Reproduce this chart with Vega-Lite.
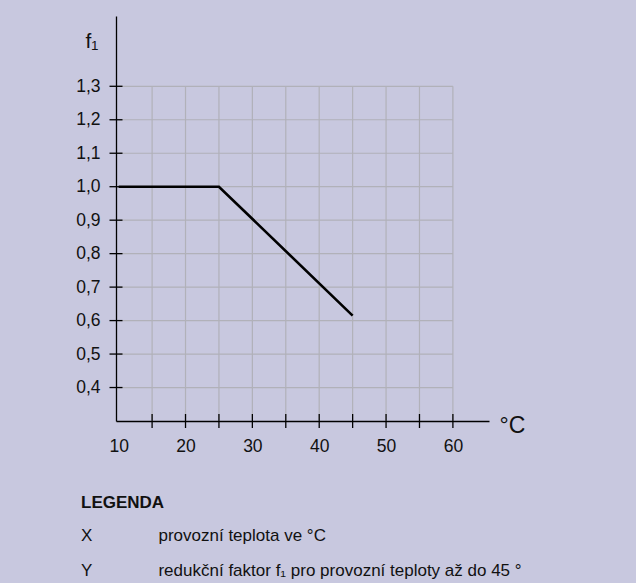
{
  "$schema": "https://vega.github.io/schema/vega-lite/v6.json",
  "autosize": {"type": "none"},
  "padding": {"left": 116, "top": 16, "right": 147, "bottom": 162},
  "width": 373,
  "height": 405,
  "background": "#c8c8df",
  "config": {"view": {"stroke": null}, "font": "Liberation Sans"},
  "title": {
    "text": "LEGENDA",
    "subtitle": [
      "X\u00a0\u00a0\u00a0\u00a0\u00a0\u00a0\u00a0\u00a0\u00a0\u00a0\u00a0\u00a0\u00a0\u00a0provozní teplota ve °C",
      "Y\u00a0\u00a0\u00a0\u00a0\u00a0\u00a0\u00a0\u00a0\u00a0\u00a0\u00a0\u00a0\u00a0\u00a0redukční faktor f₁ pro provozní teploty až do 45 °"
    ],
    "orient": "bottom",
    "anchor": "start",
    "frame": "group",
    "dx": -35,
    "offset": 40,
    "font": "Liberation Sans",
    "fontSize": 17,
    "fontWeight": "bold",
    "color": "#111111",
    "subtitleFont": "Liberation Sans",
    "subtitleFontSize": 17,
    "subtitleColor": "#111111",
    "subtitleLineHeight": 35,
    "subtitlePadding": 16
  },
  "datasets": {
    "curve": [
      {"x": 10, "y": 1.0},
      {"x": 25, "y": 1.0},
      {"x": 45, "y": 0.615}
    ],
    "vgrid": [
      {"x": 15}, {"x": 20}, {"x": 25}, {"x": 30}, {"x": 35},
      {"x": 40}, {"x": 45}, {"x": 50}, {"x": 55}, {"x": 60}
    ],
    "hgrid": [
      {"y": 0.4}, {"y": 0.5}, {"y": 0.6}, {"y": 0.7}, {"y": 0.8},
      {"y": 0.9}, {"y": 1.0}, {"y": 1.1}, {"y": 1.2}, {"y": 1.3}
    ]
  },
  "layer": [
    {
      "data": {"name": "vgrid"},
      "mark": {"type": "rule", "color": "#b1b1b9", "strokeWidth": 1.2},
      "encoding": {
        "x": {"field": "x", "type": "quantitative",
          "scale": {"domain": [9.6, 65.4], "nice": false, "zero": false},
          "axis": {
            "values": [10, 20, 30, 40, 50, 60],
            "ticks": false,
            "grid": false,
            "domainColor": "#000000",
            "domainWidth": 1.3,
            "labelFont": "Liberation Sans",
            "labelFontSize": 17.5,
            "labelColor": "#111111",
            "labelPadding": 16,
            "labelFlush": false,
            "title": "°C",
            "titleFont": "Liberation Sans",
            "titleFontSize": 23,
            "titleFontWeight": "normal",
            "titleColor": "#111111",
            "titleAlign": "left",
            "titleBaseline": "alphabetic",
            "titleAnchor": null,
            "titleX": 383,
            "titleY": 11
          }
        },
        "y": {"datum": 0.3, "type": "quantitative",
          "scale": {"domain": [0.3, 1.51], "nice": false, "zero": false},
          "axis": {
            "values": [0.4, 0.5, 0.6, 0.7, 0.8, 0.9, 1.0, 1.1, 1.2, 1.3],
            "labelExpr": "replace(format(datum.value, '.1f'), '.', ',')",
            "ticks": false,
            "grid": false,
            "domainColor": "#000000",
            "domainWidth": 1.3,
            "labelFont": "Liberation Sans",
            "labelFontSize": 17.5,
            "labelColor": "#111111",
            "labelPadding": 16,
            "labelFlush": false,
            "title": "f₁",
            "titleFont": "Liberation Sans",
            "titleFontSize": 21,
            "titleFontWeight": "normal",
            "titleColor": "#111111",
            "titleAngle": 0,
            "titleAlign": "left",
            "titleBaseline": "alphabetic",
            "titleAnchor": null,
            "titleX": -31,
            "titleY": 31
          }
        },
        "y2": {"datum": 1.3}
      }
    },
    {
      "data": {"name": "hgrid"},
      "mark": {"type": "rule", "color": "#b1b1b9", "strokeWidth": 1.2},
      "encoding": {
        "y": {"field": "y", "type": "quantitative"},
        "x": {"datum": 10, "type": "quantitative"},
        "x2": {"datum": 60}
      }
    },
    {
      "data": {"name": "vgrid"},
      "mark": {"type": "tick", "orient": "vertical", "color": "#000000", "size": 14, "thickness": 1.3, "opacity": 1},
      "encoding": {
        "x": {"field": "x", "type": "quantitative"},
        "y": {"datum": 0.3, "type": "quantitative"}
      }
    },
    {
      "data": {"name": "hgrid"},
      "mark": {"type": "tick", "orient": "horizontal", "color": "#000000", "size": 13, "thickness": 1.3, "opacity": 1},
      "encoding": {
        "y": {"field": "y", "type": "quantitative"},
        "x": {"datum": 9.6, "type": "quantitative"}
      }
    },
    {
      "data": {"name": "curve"},
      "mark": {"type": "line", "color": "#000000", "strokeWidth": 2.6},
      "encoding": {
        "x": {"field": "x", "type": "quantitative"},
        "y": {"field": "y", "type": "quantitative"}
      }
    }
  ]
}
